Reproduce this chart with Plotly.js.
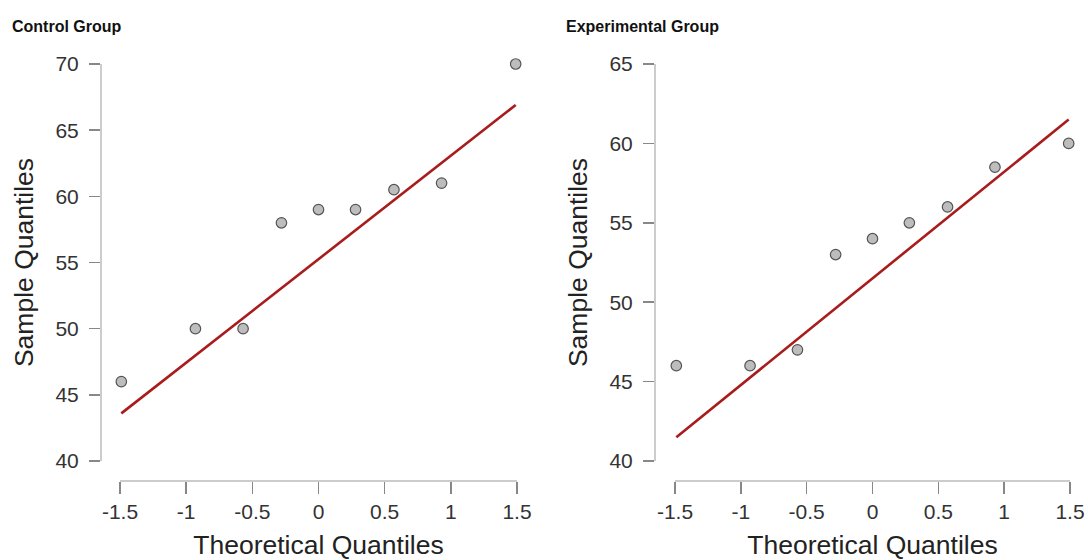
<!DOCTYPE html>
<html>
<head>
<meta charset="utf-8">
<script src="https://cdn.plot.ly/plotly-3.0.1.min.js"></script>
<style>html,body{margin:0;padding:0;background:#fff;}#chart{width:1088px;height:560px;}</style>
</head>
<body>
<div id="chart"></div>
<script>
// Data
const theoretical = [-1.49, -0.93, -0.57, -0.28, 0, 0.28, 0.57, 0.93, 1.49];
const controlSample = [46, 50, 50, 58, 59, 59, 60.5, 61, 70];
const experimentalSample = [46, 46, 47, 53, 54, 55, 56, 58.5, 60];
const lineX = [-1.49, 1.49];
const controlLineY = [43.6, 66.9];
const experimentalLineY = [41.5, 61.5];
const panelTitles = ["Control Group", "Experimental Group"];
const xTicks = [-1.5, -1, -0.5, 0, 0.5, 1, 1.5];
const xTickText = ["-1.5", "-1", "-0.5", "0", "0.5", "1", "1.5"];
const controlYTicks = [40, 45, 50, 55, 60, 65, 70];
const experimentalYTicks = [40, 45, 50, 55, 60, 65];

const W = 1088, H = 560;
const px = v => v / W;
const py = v => 1 - v / H;

const markerStyle = {size: 10.5, color: '#bdbdbd', line: {color: '#555555', width: 1.2}};
const lineStyle = {color: '#a81c1c', width: 2.6};

const traces = [
  {x: lineX, y: controlLineY, mode: 'lines', line: lineStyle, xaxis: 'x', yaxis: 'y', cliponaxis: false, hoverinfo: 'skip'},
  {x: theoretical, y: controlSample, mode: 'markers', marker: markerStyle, xaxis: 'x', yaxis: 'y', cliponaxis: false},
  {x: lineX, y: experimentalLineY, mode: 'lines', line: lineStyle, xaxis: 'x2', yaxis: 'y2', cliponaxis: false, hoverinfo: 'skip'},
  {x: theoretical, y: experimentalSample, mode: 'markers', marker: markerStyle, xaxis: 'x2', yaxis: 'y2', cliponaxis: false}
];

const font = '"Liberation Sans", Arial, Helvetica, sans-serif';
const tickFont = {family: font, size: 21, color: '#333333'};
const titleFont = {family: font, size: 26.5, color: '#222222'};

function xAxis(domain) {
  return {
    domain: domain, range: [-1.5, 1.5], anchor: 'free', position: 1 - 480 / H,
    tickmode: 'array', tickvals: xTicks, ticktext: xTickText,
    showgrid: false, zeroline: false, showline: true, linecolor: '#cccccc', linewidth: 1.5,
    ticks: 'outside', ticklen: 12, tickwidth: 1.5, tickcolor: '#888888',
    tickfont: tickFont, automargin: false,
    title: {text: 'Theoretical Quantiles', font: titleFont, standoff: 16}
  };
}
function yAxis(domain, range, ticks, pos) {
  return {
    domain: domain, range: range, anchor: 'free', position: pos,
    tickmode: 'array', tickvals: ticks,
    showgrid: false, zeroline: false, showline: true, linecolor: '#cccccc', linewidth: 1.5,
    ticks: 'outside', ticklen: 11, tickwidth: 1.5, tickcolor: '#888888',
    ticklabelstandoff: 6,
    tickfont: tickFont, automargin: false,
    title: {text: 'Sample Quantiles', font: titleFont, standoff: 12}
  };
}

const layout = {
  width: W, height: H,
  margin: {l: 0, r: 0, t: 0, b: 0},
  paper_bgcolor: '#ffffff', plot_bgcolor: '#ffffff',
  showlegend: false,
  xaxis: xAxis([px(120), px(517)]),
  yaxis: yAxis([py(461), py(64)], [40, 70], controlYTicks, px(100)),
  xaxis2: xAxis([px(675), px(1070)]),
  yaxis2: yAxis([py(461), py(64)], [40, 65], experimentalYTicks, px(654)),
  annotations: [
    {text: '<b>' + panelTitles[0] + '</b>', xref: 'paper', yref: 'paper', x: px(10), y: py(26), xanchor: 'left', yanchor: 'middle', showarrow: false, font: {family: font, size: 16, color: '#111111'}},
    {text: '<b>' + panelTitles[1] + '</b>', xref: 'paper', yref: 'paper', x: px(564), y: py(26), xanchor: 'left', yanchor: 'middle', showarrow: false, font: {family: font, size: 16, color: '#111111'}}
  ]
};

Plotly.newPlot('chart', traces, layout, {displayModeBar: false, staticPlot: true});
</script>
</body>
</html>
